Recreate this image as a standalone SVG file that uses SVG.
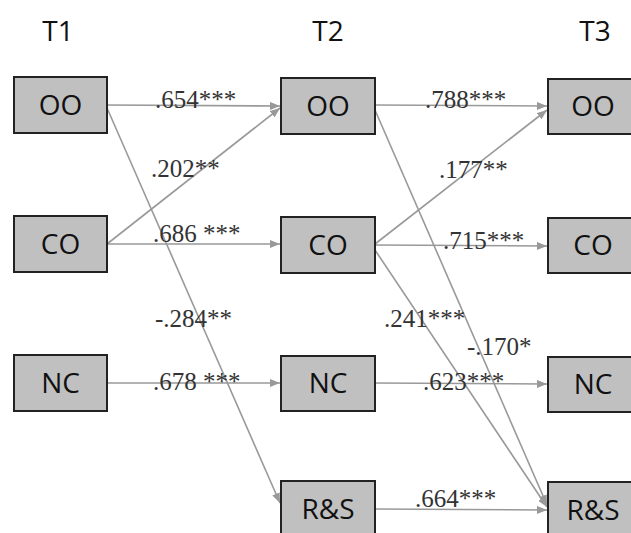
<svg xmlns="http://www.w3.org/2000/svg" width="631" height="533" viewBox="0 0 631 533">
<style>
.box{fill:#c0c0c0;stroke:#222;stroke-width:2}
.nt{font-family:"Open Sans","DejaVu Sans",sans-serif;font-size:28px;fill:#111;text-anchor:middle}
.hd{font-family:"Open Sans","DejaVu Sans",sans-serif;font-size:28px;fill:#111;text-anchor:middle}
.ln{stroke:#999;stroke-width:1.6;fill:none;marker-end:url(#ah)}
.lb{font-family:"Liberation Serif","Times New Roman",serif;font-size:25px;fill:#333}
</style>
<defs>
<marker id="ah" markerUnits="userSpaceOnUse" markerWidth="10" markerHeight="8" refX="10" refY="4" orient="auto">
<path d="M0,0 L10,4 L0,8 z" fill="#999"/>
</marker>
</defs>
<rect width="631" height="533" fill="#fff"/>
<g id="headers">
<text class="hd" x="58" y="41">T1</text>
<text class="hd" x="328" y="41">T2</text>
<text class="hd" x="595" y="41">T3</text>
</g>
<g id="connectors">
<line class="ln" x1="107" y1="105" x2="280" y2="106"/>
<line class="ln" x1="107" y1="108" x2="280" y2="503"/>
<line class="ln" x1="107" y1="244" x2="280" y2="108"/>
<line class="ln" x1="107" y1="244" x2="280" y2="244"/>
<line class="ln" x1="107" y1="383" x2="280" y2="383"/>
<line class="ln" x1="375" y1="105" x2="547" y2="106"/>
<line class="ln" x1="375" y1="110" x2="547" y2="505"/>
<line class="ln" x1="375" y1="244" x2="547" y2="110"/>
<line class="ln" x1="375" y1="245" x2="547" y2="246"/>
<line class="ln" x1="375" y1="250" x2="547" y2="507"/>
<line class="ln" x1="375" y1="383" x2="547" y2="384"/>
<line class="ln" x1="375" y1="509" x2="547" y2="510"/>
</g>
<g id="labels">
<text class="lb" x="155" y="108">.654***</text>
<text class="lb" x="151" y="177">.202**</text>
<text class="lb" x="153" y="242">.686 ***</text>
<text class="lb" x="155" y="327">-.284**</text>
<text class="lb" x="153" y="390">.678 ***</text>
<text class="lb" x="425" y="108">.788***</text>
<text class="lb" x="439" y="178">.177**</text>
<text class="lb" x="443" y="249">.715***</text>
<text class="lb" x="384" y="327">.241***</text>
<text class="lb" x="467" y="355">-.170*</text>
<text class="lb" x="423" y="390">.623***</text>
<text class="lb" x="415" y="507">.664***</text>
</g>
<g id="t1-oo"><rect class="box" x="14" y="77" width="93" height="56"/><text class="nt" x="60.5" y="115">OO</text></g>
<g id="t1-co"><rect class="box" x="14" y="216" width="93" height="56"/><text class="nt" x="60.5" y="254">CO</text></g>
<g id="t1-nc"><rect class="box" x="14" y="355" width="93" height="56"/><text class="nt" x="60.5" y="393">NC</text></g>
<g id="t2-oo"><rect class="box" x="281" y="78" width="94" height="56"/><text class="nt" x="328" y="116">OO</text></g>
<g id="t2-co"><rect class="box" x="281" y="217" width="94" height="56"/><text class="nt" x="328" y="255">CO</text></g>
<g id="t2-nc"><rect class="box" x="281" y="356" width="94" height="55"/><text class="nt" x="328" y="393">NC</text></g>
<g id="t2-rs"><rect class="box" x="281" y="481" width="94" height="60"/><text class="nt" x="328" y="519">R&amp;S</text></g>
<g id="t3-oo"><rect class="box" x="548" y="79" width="94" height="55"/><text class="nt" x="593" y="116">OO</text></g>
<g id="t3-co"><rect class="box" x="548" y="218" width="94" height="55"/><text class="nt" x="593" y="255">CO</text></g>
<g id="t3-nc"><rect class="box" x="548" y="357" width="94" height="55"/><text class="nt" x="593" y="394">NC</text></g>
<g id="t3-rs"><rect class="box" x="548" y="482" width="94" height="60"/><text class="nt" x="593" y="520">R&amp;S</text></g>
</svg>
